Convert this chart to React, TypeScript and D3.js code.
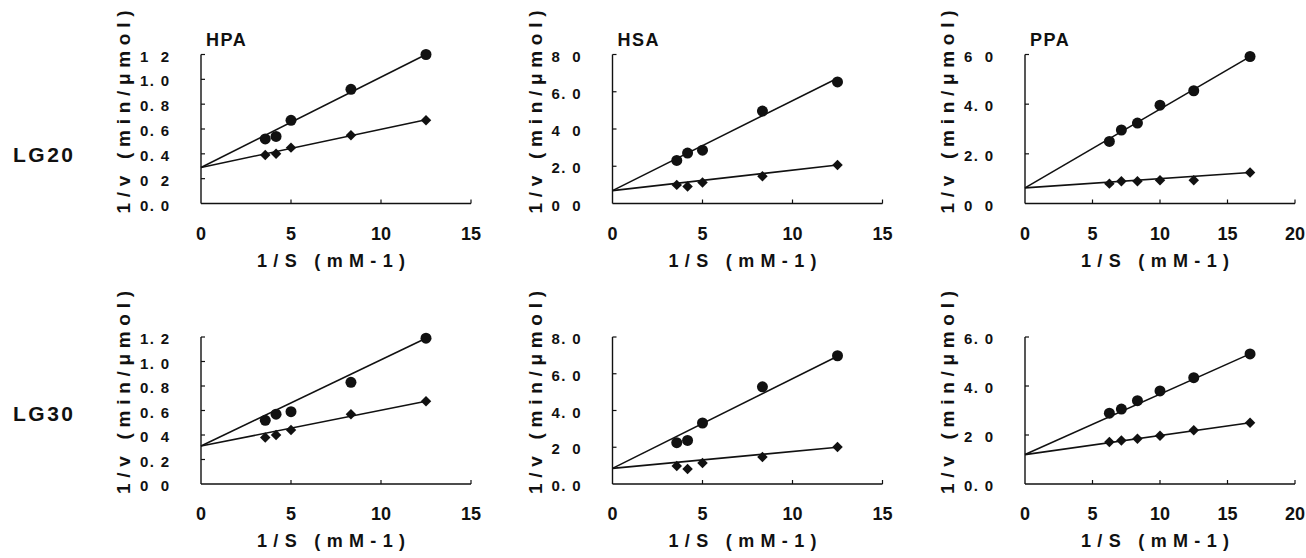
import React from 'react';
import * as d3 from 'd3';

const W = 1306;
const H = 558;

// 1/S values (mM-1)
const hpaHsaX = [3.57, 4.17, 5.0, 8.33, 12.5];
const ppaX = [6.25, 7.14, 8.33, 10.0, 12.5, 16.67];

// 1/v values (min/umol): circles = upper series, diamonds = lower series
const lg20HpaCircle = [0.52, 0.54, 0.67, 0.92, 1.2];
const lg20HpaDiamond = [0.39, 0.4, 0.45, 0.55, 0.67];
const lg20HsaCircle = [2.31, 2.71, 2.86, 4.96, 6.53];
const lg20HsaDiamond = [1.0, 0.91, 1.13, 1.46, 2.07];
const lg20PpaCircle = [2.5, 2.96, 3.24, 3.96, 4.54, 5.92];
const lg20PpaDiamond = [0.8, 0.9, 0.9, 0.94, 0.94, 1.25];

const lg30HpaCircle = [0.52, 0.57, 0.59, 0.83, 1.19];
const lg30HpaDiamond = [0.38, 0.4, 0.44, 0.57, 0.675];
const lg30HsaCircle = [2.25, 2.37, 3.32, 5.29, 6.98];
const lg30HsaDiamond = [0.98, 0.82, 1.14, 1.47, 2.01];
const lg30PpaCircle = [2.89, 3.06, 3.4, 3.8, 4.34, 5.31];
const lg30PpaDiamond = [1.71, 1.78, 1.85, 1.97, 2.19, 2.5];

// fitted lines [intercept, slope] for circle and diamond series
const lg20HpaFit = [[0.29, 0.0728], [0.29, 0.0308]];
const lg20HsaFit = [[0.69, 0.483], [0.69, 0.11]];
const lg20PpaFit = [[0.63, 0.317], [0.63, 0.037]];
const lg30HpaFit = [[0.31, 0.0704], [0.31, 0.0292]];
const lg30HsaFit = [[0.85, 0.488], [0.85, 0.092]];
const lg30PpaFit = [[1.2, 0.2466], [1.2, 0.078]];

const xTicks15 = [0, 5, 10, 15];
const xTicks20 = [0, 5, 10, 15, 20];
const yTicksHpa = [0, 0.2, 0.4, 0.6, 0.8, 1.0, 1.2];
const yTicksHsa = [0, 2, 4, 6, 8];
const yTicksPpa = [0, 2, 4, 6];

// tick labels as printed (some decimal points lost in the original)
const yLabelsLg20Hpa = ['0. 0', '0 2', '0. 4', '0. 6', '0. 8', '1. 0', '1 2'];
const yLabelsLg20Hsa = ['0 0', '2. 0', '4 0', '6. 0', '8 0'];
const yLabelsLg20Ppa = ['0 0', '2. 0', '4. 0', '6 0'];
const yLabelsLg30Hpa = ['0 0', '0. 2', '0 4', '0. 6', '0. 8', '1. 0', '1. 2'];
const yLabelsLg30Hsa = ['0. 0', '2 0', '4. 0', '6. 0', '8. 0'];
const yLabelsLg30Ppa = ['0. 0', '2 0', '4. 0', '6. 0'];

const enzymes = ['HPA', 'HSA', 'PPA'];
const rowLabels = ['LG20', 'LG30'];
const xTitle = '1/S (mM-1)';
const yTitle = '1/v  (min/\u03bcmol)';

const panels = [
  { row: 0, col: 0, x: hpaHsaX, circle: lg20HpaCircle, diamond: lg20HpaDiamond, fit: lg20HpaFit, xTicks: xTicks15, yTicks: yTicksHpa, yLabels: yLabelsLg20Hpa },
  { row: 0, col: 1, x: hpaHsaX, circle: lg20HsaCircle, diamond: lg20HsaDiamond, fit: lg20HsaFit, xTicks: xTicks15, yTicks: yTicksHsa, yLabels: yLabelsLg20Hsa },
  { row: 0, col: 2, x: ppaX, circle: lg20PpaCircle, diamond: lg20PpaDiamond, fit: lg20PpaFit, xTicks: xTicks20, yTicks: yTicksPpa, yLabels: yLabelsLg20Ppa },
  { row: 1, col: 0, x: hpaHsaX, circle: lg30HpaCircle, diamond: lg30HpaDiamond, fit: lg30HpaFit, xTicks: xTicks15, yTicks: yTicksHpa, yLabels: yLabelsLg30Hpa },
  { row: 1, col: 1, x: hpaHsaX, circle: lg30HsaCircle, diamond: lg30HsaDiamond, fit: lg30HsaFit, xTicks: xTicks15, yTicks: yTicksHsa, yLabels: yLabelsLg30Hsa },
  { row: 1, col: 2, x: ppaX, circle: lg30PpaCircle, diamond: lg30PpaDiamond, fit: lg30PpaFit, xTicks: xTicks20, yTicks: yTicksPpa, yLabels: yLabelsLg30Ppa },
];

const colX = [201, 612.5, 1025];
const rowY = [203.5, 484];
const rowH = [149, 147];
const plotW = 270;
const ink = '#111';
const font = '"Liberation Sans", Arial, sans-serif';

const circlePath = d3.symbol().type(d3.symbolCircle).size(95)();
const diamondPath = d3.symbol().type(d3.symbolDiamond2).size(70)();

function Panel({ p }: { p: any }) {
  const x0 = colX[p.col];
  const y0 = rowY[p.row];
  const xMax = p.xTicks[p.xTicks.length - 1];
  const yMax = p.yTicks[p.yTicks.length - 1];
  const x = d3.scaleLinear().domain([0, xMax]).range([x0, x0 + plotW]);
  const y = d3.scaleLinear().domain([0, yMax]).range([y0, y0 - rowH[p.row]]);
  const line = d3.line<number[]>().x(d => x(d[0])).y(d => y(d[1]));
  const xLast = p.x[p.x.length - 1];

  return (
    <g>
      {/* axes */}
      <line x1={x(0)} x2={x(0)} y1={y(0)} y2={y(yMax)} stroke={ink} strokeWidth={1.4} />
      <line x1={x(0)} x2={x(xMax)} y1={y(0)} y2={y(0)} stroke={ink} strokeWidth={1.4} />
      {p.yTicks.slice(1).map((t: number) => (
        <line key={'yt' + t} x1={x(0)} x2={x(0) + 4} y1={y(t)} y2={y(t)} stroke={ink} strokeWidth={1.2} />
      ))}
      {p.xTicks.slice(1).map((t: number) => (
        <line key={'xt' + t} x1={x(t)} x2={x(t)} y1={y(0)} y2={y(0) - 4} stroke={ink} strokeWidth={1.2} />
      ))}
      {p.yTicks.map((t: number, i: number) => (
        <text key={'yl' + t} x={x(0) - 61} y={y(t) + 7} fontSize={15} fontWeight="bold"
          textLength={29} lengthAdjust="spacing" fill={ink}>{p.yLabels[i]}</text>
      ))}
      {p.xTicks.map((t: number) => (
        <text key={'xl' + t} x={x(t)} y={y(0) + 36} fontSize={18} fontWeight="bold"
          textAnchor="middle" fill={ink}>{String(t)}</text>
      ))}
      <text x={x0 + 56} y={y0 + 63} fontSize={18} fontWeight="bold" textLength={148}
        lengthAdjust="spacing" fill={ink}>{xTitle}</text>
      <text transform={`translate(${x0 - 71},${y0 + 10}) rotate(-90)`} fontSize={19}
        fontWeight="bold" textLength={203} lengthAdjust="spacing" fill={ink}>{yTitle}</text>
      {p.row === 0 && (
        <text x={x0 + 5} y={y0 - 158} fontSize={18} fontWeight="bold" letterSpacing={1.5}
          fill={ink}>{enzymes[p.col]}</text>
      )}
      {/* fitted lines */}
      {p.fit.map((f: number[], i: number) => (
        <path key={'f' + i} d={line([[0, f[0]], [xLast, f[0] + f[1] * xLast]]) || ''}
          fill="none" stroke={ink} strokeWidth={1.6} />
      ))}
      {/* points */}
      {p.x.map((v: number, i: number) => (
        <path key={'c' + i} d={circlePath || ''} transform={`translate(${x(v)},${y(p.circle[i])})`} fill={ink} />
      ))}
      {p.x.map((v: number, i: number) => (
        <path key={'d' + i} d={diamondPath || ''} transform={`translate(${x(v)},${y(p.diamond[i])})`} fill={ink} />
      ))}
    </g>
  );
}

export default function App() {
  return (
    <div style={{ position: 'absolute', left: 0, top: 0, background: '#fff' }}>
      <svg width={W} height={H} style={{ display: 'block', fontFamily: font }}>
        <rect width={W} height={H} fill="#fff" />
        {rowLabels.map((r, i) => (
          <text key={r} x={13} y={i === 0 ? 162 : 421} fontSize={21} fontWeight="bold"
            letterSpacing={2.5} fill={ink}>{r}</text>
        ))}
        {panels.map((p, i) => <Panel key={i} p={p} />)}
      </svg>
    </div>
  );
}
